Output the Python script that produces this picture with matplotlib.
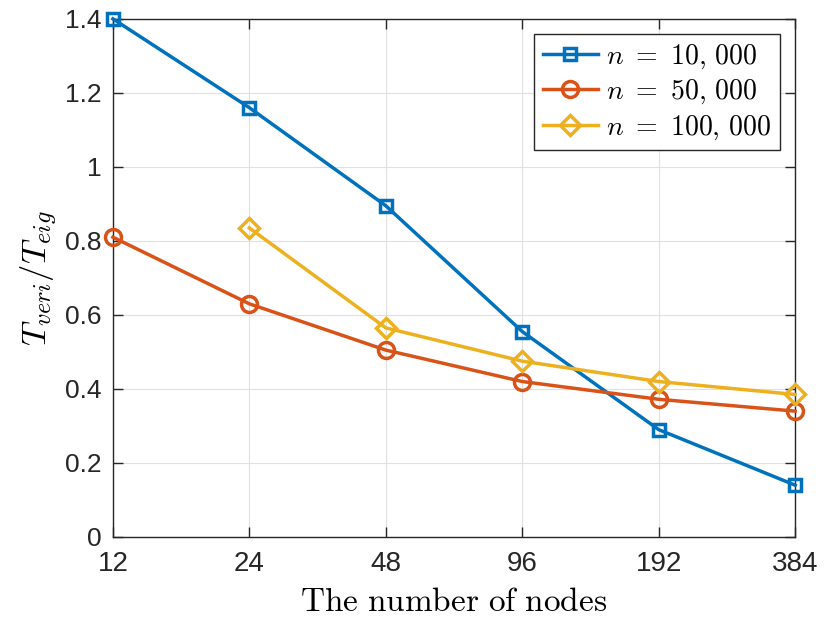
import numpy as np
import matplotlib
matplotlib.use("Agg")
import matplotlib.pyplot as plt

plt.rcParams['mathtext.fontset'] = 'cm'
plt.rcParams['font.family'] = ['Liberation Sans', 'DejaVu Sans']

nodes = [12, 24, 48, 96, 192, 384]
r_10k = [1.40, 1.16, 0.895, 0.555, 0.29, 0.14]
nodes_100k = [24, 48, 96, 192, 384]
r_50k = [0.81, 0.63, 0.505, 0.42, 0.372, 0.34]
r_100k = [0.835, 0.565, 0.475, 0.42, 0.385]
yticks = [0, 0.2, 0.4, 0.6, 0.8, 1, 1.2, 1.4]
yticklabels = ['0', '0.2', '0.4', '0.6', '0.8', '1', '1.2', '1.4']

fig = plt.figure(figsize=(8.24, 6.22), dpi=100)
ax = fig.add_axes([0.137, 0.1367, 0.828, 0.833])

kw = dict(lw=2.5, markerfacecolor='none', markeredgewidth=2.5, clip_on=False, zorder=3)
ax.plot(nodes, r_10k, marker='s', ms=9, color='#0072BD', label=r'$n\ =\ 10,\,000$', **kw)
ax.plot(nodes, r_50k, marker='o', ms=11.5, color='#D95319', label=r'$n\ =\ 50,\,000$', **kw)
ax.plot(nodes_100k, r_100k, marker='D', ms=10.5, color='#EDB120', label=r'$n\ =\ 100,\,000$', **kw)

ax.set_xscale('log', base=2)
ax.set_xlim(12, 384)
ax.set_ylim(0, 1.4)
ax.set_xticks(nodes)
ax.set_xticklabels([str(n) for n in nodes])
ax.minorticks_off()
ax.set_yticks(yticks)
ax.set_yticklabels(yticklabels)
ax.tick_params(direction='in', length=7, width=1, color='#262626',
               top=True, right=True, labelcolor='#262626')
ax.tick_params(axis='x', pad=10, labelsize=20)
ax.tick_params(axis='y', pad=8, labelsize=19)
ax.grid(True, color='#e0e0e0', lw=0.8)
ax.set_axisbelow(True)
for s in ax.spines.values():
    s.set_color('#262626')
    s.set_linewidth(1)

ax.set_xlabel(r'$\mathrm{The\ number\ of\ nodes}$', fontsize=24, labelpad=7)
ax.set_ylabel(r'$T_{veri}/T_{eig}$', fontsize=25, labelpad=4)

leg = ax.legend(loc='upper right', fontsize=20, fancybox=False, framealpha=1,
                edgecolor='#262626', handlelength=2.0, borderpad=0.3,
                labelspacing=0.25, handletextpad=0.3, borderaxespad=0.55)
leg.get_frame().set_linewidth(1)

fig.savefig('out.png', dpi=100)
